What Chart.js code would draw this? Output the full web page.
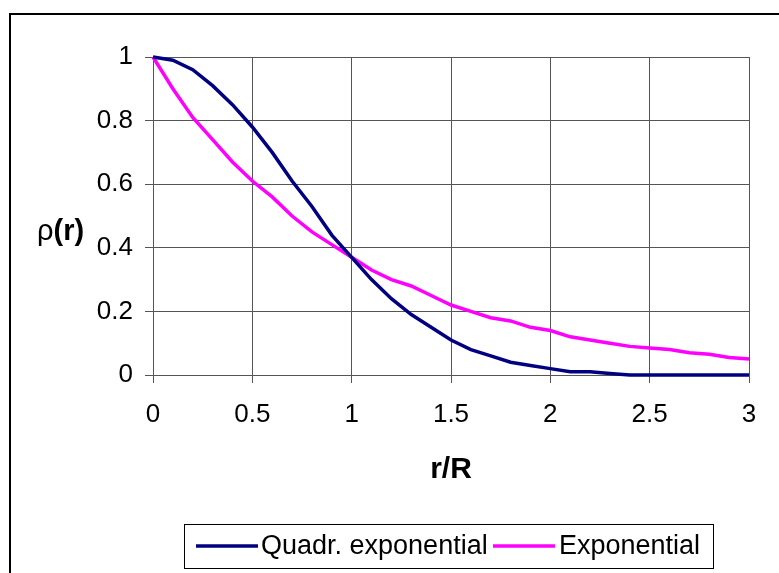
<!DOCTYPE html>
<html>
<head>
<meta charset="utf-8">
<script src="https://cdn.jsdelivr.net/npm/chart.js@4/dist/chart.umd.min.js"></script>
<style>
  html, body { margin: 0; padding: 0; background: #fff; }
  #wrap { width: 779px; height: 573px; }
</style>
</head>
<body>
<div id="wrap"><canvas id="rhoChart" width="779" height="573"></canvas></div>
<script>
// r/R sample positions and the two density profiles
const rValues = [0, 0.1, 0.2, 0.3, 0.4, 0.5, 0.6, 0.7, 0.8, 0.9, 1.0,
  1.1, 1.2, 1.3, 1.4, 1.5, 1.6, 1.7, 1.8, 1.9, 2.0,
  2.1, 2.2, 2.3, 2.4, 2.5, 2.6, 2.7, 2.8, 2.9, 3.0];
const quadrExp = [1, 0.99, 0.96, 0.91, 0.85, 0.78, 0.70, 0.61, 0.53, 0.44, 0.37,
  0.30, 0.24, 0.19, 0.15, 0.11, 0.08, 0.06, 0.04, 0.03, 0.02,
  0.01, 0.01, 0.005, 0, 0, 0, 0, 0, 0, 0];
const expProfile = [1, 0.90, 0.81, 0.74, 0.67, 0.61, 0.56, 0.50, 0.45, 0.41, 0.37,
  0.33, 0.30, 0.28, 0.25, 0.22, 0.20, 0.18, 0.17, 0.15, 0.14,
  0.12, 0.11, 0.10, 0.09, 0.085, 0.08, 0.07, 0.065, 0.055, 0.05];
const seriesNames = ['Quadr. exponential', 'Exponential'];
const seriesColors = ['#000080', '#ff00ff'];

const FONT = "Arial, 'Liberation Sans', sans-serif";

function toPoints(ys) {
  return rValues.map((x, i) => ({ x: x, y: ys[i] }));
}

// plain number labels like Excel: 0, 0.5, 1, 1.5 ...
function plainTick(value) {
  return String(Math.round(value * 10) / 10);
}

// outer frame, axis titles and the boxed legend, drawn like the original Excel chart
const excelDecor = {
  id: 'excelDecor',
  afterDraw(chart) {
    const ctx = chart.ctx;
    const area = chart.chartArea;
    ctx.save();

    // outer frame (runs off the right and bottom edge)
    ctx.strokeStyle = '#000';
    ctx.lineWidth = 2;
    ctx.strokeRect(10, 14, 800, 600);

    // x title
    ctx.fillStyle = '#000';
    ctx.font = 'bold 30px ' + FONT;
    ctx.textAlign = 'center';
    ctx.textBaseline = 'middle';
    ctx.fillText('r/R', (area.left + area.right) / 2, 470);

    // y title: rho normal, (r) bold
    ctx.textAlign = 'left';
    ctx.textBaseline = 'alphabetic';
    ctx.font = '29px ' + FONT;
    ctx.fillText('ρ', 37, 240);
    const rhoW = ctx.measureText('ρ').width;
    ctx.font = 'bold 29px ' + FONT;
    ctx.fillText('(r)', 37 + rhoW, 240);

    // legend box
    ctx.strokeStyle = '#000';
    ctx.lineWidth = 1;
    ctx.strokeRect(184.5, 524.5, 529, 44);
    ctx.font = '27px ' + FONT;
    ctx.textBaseline = 'middle';
    const items = [{ x0: 196, tx: 261 }, { x0: 493, tx: 559 }];
    chart.data.datasets.forEach((ds, i) => {
      ctx.strokeStyle = ds.borderColor;
      ctx.lineWidth = 3.5;
      ctx.beginPath();
      ctx.moveTo(items[i].x0, 546);
      ctx.lineTo(items[i].x0 + 62, 546);
      ctx.stroke();
      ctx.fillStyle = '#000';
      ctx.fillText(ds.label, items[i].tx, 547);
    });
    ctx.restore();
  }
};

new Chart(document.getElementById('rhoChart'), {
  type: 'scatter',
  data: {
    datasets: [
      {
        label: seriesNames[0],
        data: toPoints(quadrExp),
        showLine: true,
        borderColor: seriesColors[0],
        borderWidth: 3.5,
        pointRadius: 0,
        tension: 0
      },
      {
        label: seriesNames[1],
        data: toPoints(expProfile),
        showLine: true,
        borderColor: seriesColors[1],
        borderWidth: 3.5,
        pointRadius: 0,
        tension: 0
      }
    ]
  },
  options: {
    responsive: false,
    animation: false,
    clip: false,
    layout: { padding: { left: 0, top: 57, right: 30, bottom: 0 } },
    plugins: {
      legend: { display: false },
      tooltip: { enabled: false }
    },
    scales: {
      x: {
        type: 'linear',
        min: 0,
        max: 3,
        afterFit(scale) { scale.height = 198; },
        border: { color: '#555', width: 1 },
        grid: { color: '#555', lineWidth: 1, tickLength: 8 },
        ticks: {
          stepSize: 0.5,
          color: '#000',
          padding: 16,
          maxRotation: 0,
          callback: plainTick,
          font: { family: FONT, size: 26 }
        }
      },
      y: {
        min: 0,
        max: 1,
        afterFit(scale) { scale.width = 153; },
        border: { color: '#555', width: 1 },
        grid: { color: '#555', lineWidth: 1, tickLength: 8 },
        ticks: {
          stepSize: 0.2,
          color: '#000',
          padding: 12,
          callback: plainTick,
          font: { family: FONT, size: 26 }
        }
      }
    }
  },
  plugins: [excelDecor]
});
</script>
</body>
</html>
